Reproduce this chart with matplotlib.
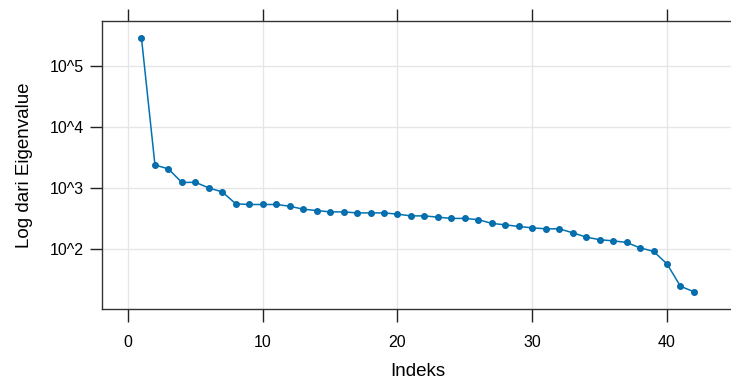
import numpy as np
import matplotlib.pyplot as plt

plt.rcParams['font.family'] = ['Liberation Sans', 'DejaVu Sans']

# eigenvalues (log scale)
indeks = list(range(1, 43))
eigenvalue = [283000, 2400, 2065, 1240, 1250, 1010, 870, 555, 542, 542,
              542, 508, 454, 432, 410, 410, 395, 395, 395, 377,
              353, 353, 336, 321, 321, 306, 266, 252, 237, 225,
              217, 217, 187, 159, 144, 138, 130, 106, 93, 58,
              25, 20.3]
ytick_pos = [1e2, 1e3, 1e4, 1e5]
ytick_lab = ['10^2', '10^3', '10^4', '10^5']
xtick_pos = [0, 10, 20, 30, 40]

fig = plt.figure(figsize=(7.31, 3.83), dpi=100)
ax = fig.add_axes([102/731, 1 - 309/383, (733 - 102)/731, (309 - 20.5)/383])

ax.plot(indeks, eigenvalue, color='#0072B2', lw=1.1, marker='o', ms=4,
        mec='#0a6aa8', mfc='#0072B2', zorder=3)
ax.set_yscale('log')
ax.set_xlim(-1.93, 44.9)
ax.set_ylim(10**1.026, 10**5.741)

ax.set_xticks(xtick_pos)
ax.set_yticks(ytick_pos)
ax.set_yticklabels(ytick_lab)
ax.minorticks_off()
ax.grid(True, color='#e6e6e6', lw=1)
ax.set_axisbelow(True)

ax.tick_params(axis='x', top=True, bottom=True, direction='out', length=9,
               width=1, color='#222222', labelsize=11.5, pad=10)
ax.tick_params(axis='y', left=True, right=False, direction='out', length=9,
               width=1, color='#222222', labelsize=11.5, pad=4)
for s in ax.spines.values():
    s.set_color('#333333')
    s.set_linewidth(1)

ax.set_xlabel('Indeks', fontsize=13.5, labelpad=9)
ax.set_ylabel('Log dari Eigenvalue', fontsize=13.5, labelpad=12)

fig.savefig('out.png', dpi=100)
